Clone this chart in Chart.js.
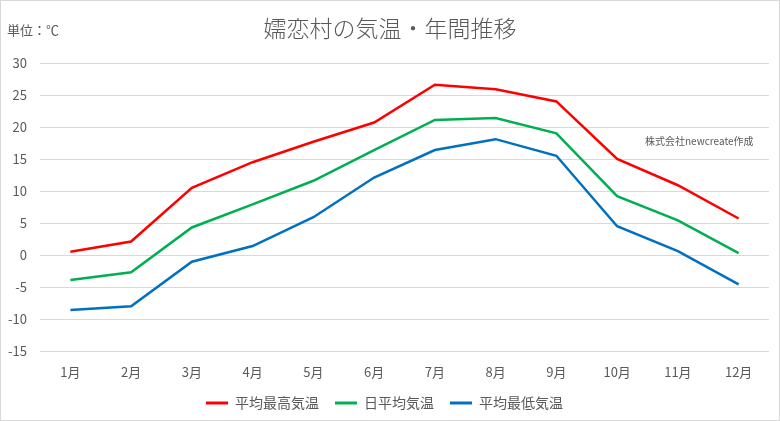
<!DOCTYPE html>
<html><head><meta charset="utf-8">
<script src="https://cdn.jsdelivr.net/npm/chart.js@4"></script>
<style>html,body{margin:0;padding:0;background:#fff}#wrap{width:780px;height:421px;position:relative}</style>
</head><body><div id="wrap"><canvas id="c" width="780" height="421"></canvas></div>
<script>
const months = ['1月','2月','3月','4月','5月','6月','7月','8月','9月','10月','11月','12月'];
const avgHigh = [0.5, 2.1, 10.5, 14.5, 17.7, 20.7, 26.6, 25.9, 24.0, 15.0, 10.9, 5.7];
const avgDaily = [-3.9, -2.7, 4.3, 7.9, 11.6, 16.4, 21.1, 21.4, 19.0, 9.2, 5.4, 0.3];
const avgLow = [-8.6, -8.0, -1.05, 1.4, 5.9, 12.1, 16.4, 18.1, 15.5, 4.5, 0.6, -4.6];
const seriesNames = ['平均最高気温','日平均気温','平均最低気温'];
const titleText = '嬬恋村の気温・年間推移';
const unitText = '単位：℃';
const noteText = '株式会社newcreate作成';

const FONT = "'Noto Sans CJK JP', 'Noto Sans', sans-serif";
const GRAY = '#595959';

const deco = {
  id: 'deco',
  beforeDraw(chart) {
    const ctx = chart.ctx;
    ctx.save();
    ctx.fillStyle = '#fff';
    ctx.fillRect(0, 0, chart.width, chart.height);
    ctx.strokeStyle = '#D9D9D9';
    ctx.lineWidth = 1;
    ctx.strokeRect(0.5, 0.5, chart.width - 1, chart.height - 1);
    ctx.restore();
  },
  afterDraw(chart) {
    const ctx = chart.ctx;
    ctx.save();
    ctx.fillStyle = GRAY;
    ctx.textBaseline = 'middle';
    ctx.textAlign = 'center';
    ctx.font = "300 23px " + FONT;
    ctx.fillText(titleText, 390, 28);
    ctx.textAlign = 'left';
    ctx.font = "13px " + FONT;
    ctx.fillText(unitText, 7, 30);
    ctx.font = "10px " + FONT;
    ctx.fillText(noteText, 645, 141);
    ctx.restore();
  }
};

new Chart(document.getElementById('c'), {
  type: 'line',
  data: {
    labels: months,
    datasets: [
      {label: seriesNames[0], data: avgHigh, borderColor: '#FF0000', backgroundColor: '#FF0000'},
      {label: seriesNames[1], data: avgDaily, borderColor: '#00B050', backgroundColor: '#00B050'},
      {label: seriesNames[2], data: avgLow, borderColor: '#0070C0', backgroundColor: '#0070C0'}
    ].map(d => Object.assign(d, {borderWidth: 2.5, pointRadius: 0, tension: 0, fill: false}))
  },
  options: {
    responsive: false,
    animation: false,
    layout: {padding: {top: 63, right: 11, left: 0, bottom: 1}},
    plugins: {
      title: {display: false},
      tooltip: {enabled: false},
      legend: {
        position: 'bottom',
        labels: {
          boxWidth: 22, boxHeight: 3,
          color: GRAY, font: {family: FONT, size: 14}, padding: 16,
          generateLabels(chart) {
            return Chart.defaults.plugins.legend.labels.generateLabels(chart).map(l => Object.assign(l, {lineWidth: 0}));
          }
        }
      }
    },
    scales: {
      x: {
        offset: true,
        grid: {display: false, drawTicks: false},
        border: {display: false},
        ticks: {color: GRAY, font: {family: FONT, size: 13}, padding: 13},
        afterFit(s) { s.height = 29; }
      },
      y: {
        min: -15, max: 30,
        grid: {color: '#D9D9D9', lineWidth: 1, drawTicks: false},
        border: {display: false},
        ticks: {stepSize: 5, color: GRAY, font: {family: FONT, size: 13}, padding: 13},
        afterFit(s) { s.width = 40; }
      }
    }
  },
  plugins: [deco]
});
</script></body></html>
